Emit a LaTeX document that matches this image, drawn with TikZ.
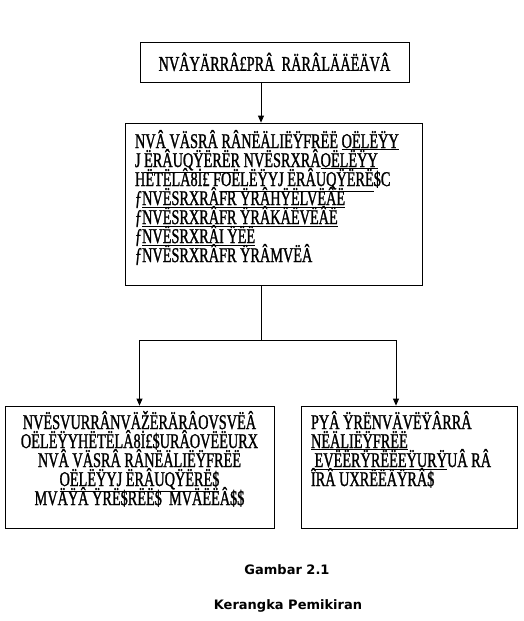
\documentclass[tikz,border=0pt]{standalone}
\usepackage{fontspec}
\usepackage{tikz}
\usetikzlibrary{arrows.meta,calc}
\newfontfamily\glyphfont[FakeStretch=0.68,FakeBold=1.2]{Liberation Serif}
\newfontfamily\capfont{DejaVu Sans}
\newcommand\tightlines{\baselineskip=19pt\lineskiplimit=-30pt\lineskip=0pt}
\tikzset{
  box/.style={draw, line width=0.8pt, inner sep=0pt, font=\glyphfont\fontsize{21}{19}\selectfont},
  link/.style={line width=0.8pt},
  arr/.style={link, -{Triangle[length=7pt,width=6pt]}},
}
\begin{document}
\begin{tikzpicture}[x=1pt,y=-1pt]
  \useasboundingbox (0,0) rectangle (524,621);
  % boxes
  \node[box, minimum width=269, minimum height=40] (top) at (274.5,62)
    {NVÂYÄRRÂ£PRÂ\ \ RÄRÂLÄÄËÄVÂ};
  \node[box, minimum width=297, minimum height=162] (mid) at (273.5,204)
    {\begin{minipage}[c][148pt][t]{277pt}\tightlines\raggedright
     NVÂ VÄSRÂ RÂNËÄLIËŸFRËË \underline{OËLËŸY}\\
     J \underline{ËRÂUQŸËRËR} NVËSRXRÂ\underline{OËLËŸY}\\
     HËTËLÂ8İ£ F\underline{OËLËŸYJ ËRÂUQŸËRË}\$C\\
     ƒ\underline{NVËSRXRÂFR ŸRÂHŸËLVËÂË}\\
     ƒ\underline{NVËSRXRÂFR ŸRÂKÄËVËÂË}\\
     ƒ\underline{NVËSRXRÂI ŸËË}\\
     ƒNVËSRXRÂFR ŸRÂMVËÂ
     \end{minipage}};
  \node[box, minimum width=269, minimum height=122] (left) at (139.5,467)
    {\begin{minipage}[c][112pt][t]{262pt}\tightlines\centering
     NVËSVURRÂNVÄŽËRÄRÂOVSVËÂ\\
     OËLËŸYHËTËLÂ8İ£\$URÂOVËËURX\\
     NVÂ VÄSRÂ RÂNËÄLIËŸFRËË\\
     \underline{OËLËŸYJ ËRÂUQŸËRË\$}\\
     MVÄŸÂ ŸRË\$RËË\$\ \ MVÄËËÂ\$\$
     \end{minipage}};
  \node[box, minimum width=216, minimum height=122] (right) at (409,467)
    {\begin{minipage}[c][112pt][t]{196pt}\tightlines\raggedright
     PYÂ ŸRËNVÄVËŸÂRRÂ\\
     \underline{NËÄLIËŸFRËË}\\
     \ \underline{EVËËRŸRËËEŸURŸ}UÂ RÂ\\
     ÎRÂ UXRËËÄŸRÂ\$
     \end{minipage}};
  % connectors
  \coordinate (spine) at (261,0);
  \coordinate (fork)  at (261,340);
  \coordinate (forkL) at (139.5,340);
  \coordinate (forkR) at (396,340);
  \draw[arr] (top.south -| spine) -- (mid.north -| spine);
  \draw[link] (mid.south -| spine) -- (fork);
  \draw[link] (forkL) -- (forkR);
  \draw[arr] (forkL) -- (left.north);
  \draw[arr] (forkR) -- (right.north -| forkR);
  % caption
  \node[font=\capfont\bfseries\fontsize{13}{15}\selectfont] (fig) at (287,570) {Gambar 2.1};
  \node[font=\capfont\bfseries\fontsize{13}{15}\selectfont] (title) at (288,606) {Kerangka Pemikiran};
\end{tikzpicture}
\end{document}
